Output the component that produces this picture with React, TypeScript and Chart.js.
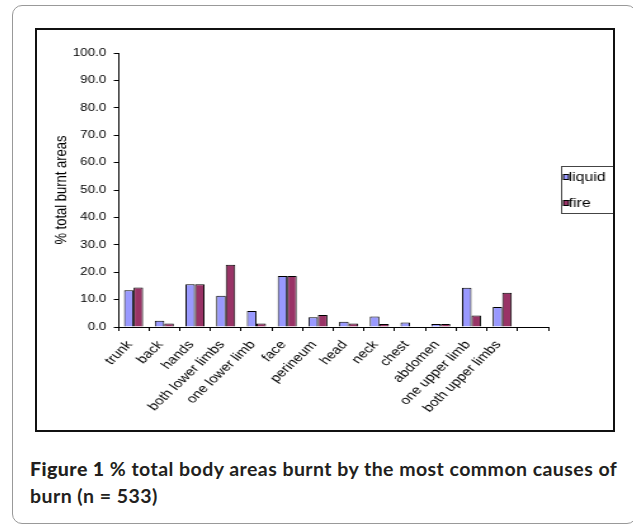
import React, { useEffect, useRef } from 'react';
import { Chart, registerables } from 'chart.js';

Chart.register(...registerables);

const categories = [
  'trunk', 'back', 'hands', 'both lower limbs', 'one lower limb', 'face', 'perineum',
  'head', 'neck', 'chest', 'abdomen', 'one upper limb', 'both upper limbs', '',
];
const liquidValues = [13.4, 2.3, 15.6, 11.4, 5.8, 18.6, 3.6, 1.9, 3.8, 1.6, 1.1, 14.3, 7.3, null];
const fireValues = [14.4, 1.3, 15.6, 22.7, 1.3, 18.6, 4.4, 1.3, 1.1, null, 1.1, 4.2, 12.5, null];
const seriesNames = ['liquid', 'fire'];
const seriesColors = ['#9999FF', '#993366'];
const yAxisMin = 0;
const yAxisMax = 100;
const yAxisStep = 10;
const yAxisTitle = '% total burnt areas';

// The reference figure is horizontally stretched; render the canvas narrower and stretch it by CSS.
const CSS_W = 576;
const CSS_H = 400;
const CANVAS_W = 454;
const FAMILY = '"Liberation Sans", Arial, Helvetica, sans-serif';

const boxLegendPlugin = {
  id: 'boxLegend',
  afterDraw(chart: any) {
    const ctx = chart.ctx as CanvasRenderingContext2D;
    const { right, top, bottom } = chart.chartArea;
    const x0 = Math.round(right + 10);
    const w = 41;
    const h = 47;
    const y0 = Math.round((top + bottom) / 2 - h / 2 - 1);
    ctx.save();
    ctx.lineWidth = 1;
    ctx.strokeStyle = '#444';
    ctx.strokeRect(x0 + 0.5, y0 + 0.5, w, h);
    chart.data.datasets.forEach((ds: any, i: number) => {
      const iy = y0 + 11 + i * 26;
      ctx.fillStyle = ds.backgroundColor;
      ctx.fillRect(x0 + 2, iy - 2.5, 4, 5);
      ctx.strokeStyle = '#000';
      ctx.strokeRect(x0 + 2, iy - 2.5, 4, 5);
      ctx.fillStyle = '#000';
      ctx.font = `12.5px ${FAMILY}`;
      ctx.textBaseline = 'middle';
      ctx.textAlign = 'left';
      ctx.fillText(ds.label, x0 + 6, iy + 0.5);
    });
    ctx.restore();
  },
};

function BurnChart() {
  const ref = useRef<HTMLCanvasElement | null>(null);
  useEffect(() => {
    if (!ref.current) return;
    const chart = new Chart(ref.current, {
      type: 'bar',
      data: {
        labels: categories,
        datasets: [
          {
            label: seriesNames[0],
            data: liquidValues,
            backgroundColor: seriesColors[0],
            borderColor: '#000',
            borderWidth: 1,
          },
          {
            label: seriesNames[1],
            data: fireValues,
            backgroundColor: seriesColors[1],
            borderColor: '#000',
            borderWidth: 1,
          },
        ],
      },
      options: {
        responsive: false,
        animation: false,
        devicePixelRatio: 1,
        layout: { padding: { left: 8, top: 23, right: 51, bottom: 0 } },
        datasets: { bar: { categoryPercentage: 0.62, barPercentage: 1 } },
        plugins: {
          legend: { display: false },
          tooltip: { enabled: false },
        },
        scales: {
          x: {
            type: 'category',
            offset: true,
            grid: {
              display: true,
              offset: true,
              drawOnChartArea: false,
              drawTicks: true,
              tickLength: 4,
              color: '#000',
            },
            border: { display: true, color: '#000', width: 1 },
            ticks: {
              autoSkip: false,
              maxRotation: 50,
              minRotation: 50,
              color: '#000',
              font: { family: FAMILY, size: 12 },
              padding: 7,
              labelOffset: -3,
            },
            afterFit(scale: any) { scale.height = 103; },
          },
          y: {
            min: yAxisMin,
            max: yAxisMax,
            grid: {
              display: true,
              drawOnChartArea: false,
              drawTicks: true,
              tickLength: 3.5,
              color: '#000',
            },
            border: { display: true, color: '#000', width: 1 },
            ticks: {
              stepSize: yAxisStep,
              color: '#000',
              font: { family: FAMILY, size: 10.5 },
              padding: 6,
              callback: (v: any) => Number(v).toFixed(1),
            },
            title: {
              display: true,
              text: yAxisTitle,
              color: '#000',
              font: { family: FAMILY, size: 13 },
              padding: { top: 4, bottom: 4 },
            },
            afterFit(scale: any) { scale.width = 56; },
          },
        },
      } as any,
      plugins: [boxLegendPlugin],
    });
    return () => chart.destroy();
  }, []);
  return (
    <canvas
      ref={ref}
      width={CANVAS_W}
      height={CSS_H}
      style={{ position: 'absolute', left: 37, top: 30, width: CSS_W, height: CSS_H, display: 'block' }}
    />
  );
}

export default function App() {
  return (
    <div style={{ position: 'absolute', left: 0, top: 0, width: 633, height: 524, overflow: 'hidden', background: '#fff' }}>
      <div
        style={{
          position: 'absolute', left: 12, top: 5, width: 625, height: 519,
          boxSizing: 'border-box', border: '1px solid #999', borderRadius: 10,
        }}
      />
      <div
        style={{
          position: 'absolute', left: 35, top: 28, width: 580, height: 404,
          boxSizing: 'border-box', border: '2px solid #111',
        }}
      />
      <BurnChart />
      <div
        style={{
          position: 'absolute', left: 30, top: 456, fontFamily: 'Lato, "Open Sans", sans-serif',
          fontSize: 19.5, letterSpacing: '0.45px', lineHeight: '26.6px', color: '#231f20',
          whiteSpace: 'nowrap', fontWeight: 700,
        }}
      >
        <span style={{ fontWeight: 900 }}>Figure 1</span> % total body areas burnt by the most common causes of
        <br />
        burn (n = 533)
      </div>
    </div>
  );
}
